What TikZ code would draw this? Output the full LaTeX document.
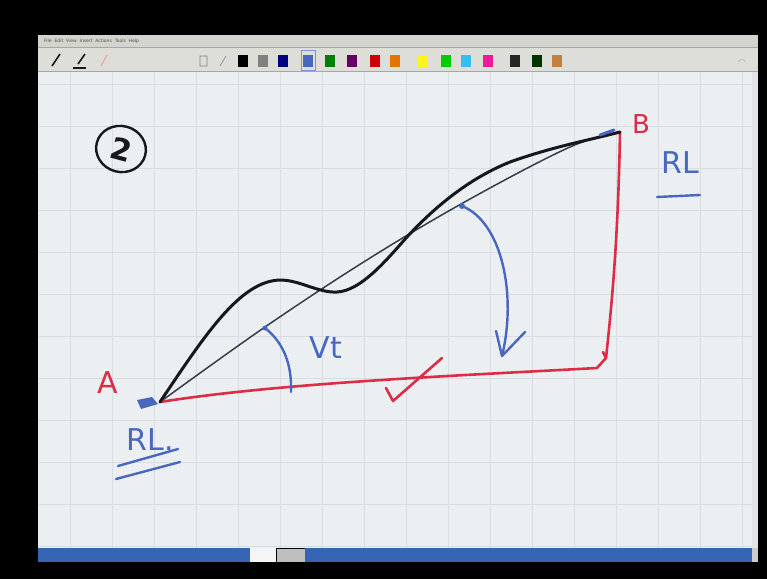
\documentclass[tikz,border=0pt]{standalone}
\usepackage{fontspec}
\setmainfont{DejaVu Sans}
\usetikzlibrary{arrows.meta,shapes.geometric}
\definecolor{canvas}{RGB}{236,239,241}
\definecolor{gridc}{RGB}{216,221,226}
\definecolor{menubg}{RGB}{212,212,206}
\definecolor{toolbg}{RGB}{222,222,216}
\definecolor{inkred}{RGB}{221,45,70}
\definecolor{inkblue}{RGB}{72,104,192}
\definecolor{inkblack}{RGB}{22,24,28}
\definecolor{chordc}{RGB}{50,62,78}
\definecolor{taskblue}{RGB}{52,100,178}
\begin{document}
\begin{tikzpicture}[x=1pt,y=-1pt,
  redink/.style={draw=inkred,line width=2.6pt,line cap=round,line join=round},
  blueink/.style={draw=inkblue,line width=2.4pt,line cap=round,line join=round},
  blackink/.style={draw=inkblack,line width=3pt,line cap=round,line join=round},
  redtext/.style={text=inkred,font=\fontsize{30}{30}\selectfont,inner sep=0pt},
  bluetext/.style={text=inkblue,font=\fontsize{30}{30}\selectfont,inner sep=0pt}]
\useasboundingbox (0,0) rectangle (767,579);
% screen frame
\fill[black] (0,0) rectangle (767,579);
\fill[canvas] (38,72) rectangle (752,548);
\fill[gridc!60!canvas] (752,72) rectangle (758,548);
% grid
\foreach \gx in {70,112,154,196,238,280,322,364,406,448,490,532,574,616,658,700,742}
  \draw[gridc,line width=0.8pt] (\gx,72) -- (\gx,548);
\foreach \gy in {84,126,168,210,252,294,336,378,420,462,504,546}
  \draw[gridc,line width=0.8pt] (38,\gy) -- (752,\gy);
% menu and tool bars
\fill[menubg] (38,35) rectangle (758,47);
\fill[toolbg] (38,47) rectangle (758,72);
\draw[gray!70,line width=0.5pt] (38,47) -- (758,47) (38,71) -- (758,71);
\node[anchor=west,text=gray!60!black,font=\fontsize{4.5}{5}\selectfont,inner sep=0pt] (menu) at (44,41) {File\ \ Edit\ \ View\ \ Insert\ \ Actions\ \ Tools\ \ Help};
% pen tools
\draw[inkblack,line width=1.6pt] (52,66) -- (60,54);
\draw[inkblack,line width=1.6pt] (78,64) -- (85,54);
\draw[inkblack,line width=2pt] (73,68) -- (86,68);
\draw[inkred!40,line width=1.6pt] (101,66) -- (107,55);
\draw[gray,line width=0.6pt] (200,56) rectangle (207,66) (220,66) -- (226,56);
% colour swatches
\foreach \sx/\sc in {243/black,263/gray,283/{blue!50!black},308/{inkblue},330/{green!50!black},352/{violet!80!black},375/{red!80!black},395/{orange!90!black},423/{yellow!90!white},446/{green!80!black},466/{cyan!80!white},488/{magenta!90!white},515/{black!85},537/{green!20!black},557/{brown}}
  \fill[\sc] (\sx-5,55) rectangle (\sx+5,67);
\draw[inkblue!70,line width=0.8pt] (301,50) rectangle (315,70);
\draw[gray!60,line width=0.6pt] (738,62) arc (200:340:4);
% task bar
\fill[taskblue] (38,548) rectangle (250,562);
\fill[white!92!gray] (250,548) rectangle (276,562);
\fill[gray!50] (277,549) rectangle (305,562);
\fill[taskblue] (305,548) rectangle (752,562);
\fill[gray!40] (752,548) rectangle (758,562);

% key points
\coordinate (A) at (160,402);
\coordinate (B) at (620,132);
\coordinate (C) at (597,368);
\coordinate (Ctop) at (606,358);
\coordinate (peak) at (280,280);
\coordinate (dip) at (337,292);
\coordinate (m1) at (406,238);
\coordinate (m2) at (510,162);

% circled 2
\node[draw=inkblack,line width=2.4pt,ellipse,rotate=-15,minimum width=50pt,minimum height=46pt,inner sep=0pt,
      text=inkblack,font=\fontsize{30}{30}\selectfont\bfseries] (num) at (121,149) {2};

% chord A-B (hand drawn, gently bowed)
\draw[chordc,line width=1.5pt,line cap=round] plot[smooth,tension=0.6] coordinates {(A) (265,327) (370,258) (470,199) (570,147) (B)};
% red base and vertical
\draw[redink] (A) .. controls (280,383) and (450,376) .. (C) -- (Ctop) -- ++(-3,-6);
\draw[redink] (Ctop) .. controls (610,320) and (618,250) .. (B);
% black curve
\draw[blackink] (A) .. controls (205,335) and (240,281) .. (peak)
  .. controls (300,280) and (318,293) .. (dip)
  .. controls (360,291) and (385,262) .. (m1)
  .. controls (430,212) and (465,180) .. (m2)
  .. controls (555,146) and (590,140) .. (B);

% blue marks at A and B
\fill[inkblue] (137,400) -- (152,397) -- (158,404) -- (141,409) -- cycle;
\draw[inkblue,line width=3pt,line cap=round] (600,135) -- (614,130);

% Vt angle arc
\draw[blueink] (265,328) .. controls (284,343) and (292,365) .. (291,392);
\fill[inkblue] (265,328) circle (2.5pt);
\node[bluetext] (vt) at (326,348) {Vt};

% blue arrow
\draw[blueink] (462,206) .. controls (502,222) and (517,295) .. (502,356);
\draw[blueink] (496,331) -- (502,356) -- (525,332);
\fill[inkblue] (462,206) circle (3pt);

% red tick
\draw[redink] (386,388) -- (393,401) -- (442,358);

% labels
\node[redtext] (labA) at (108,383) {A};
\node[redtext,font=\fontsize{26}{26}\selectfont] (labB) at (641,124) {B};
\node[bluetext] (rlA) at (150,440) {RL.};
\draw[blueink] (118,466) -- (178,449);
\draw[blueink] (116,479) -- (180,462);
\node[bluetext] (rlB) at (680,163) {RL};
\draw[blueink] (657,197) -- (700,195);
\end{tikzpicture}
\end{document}
